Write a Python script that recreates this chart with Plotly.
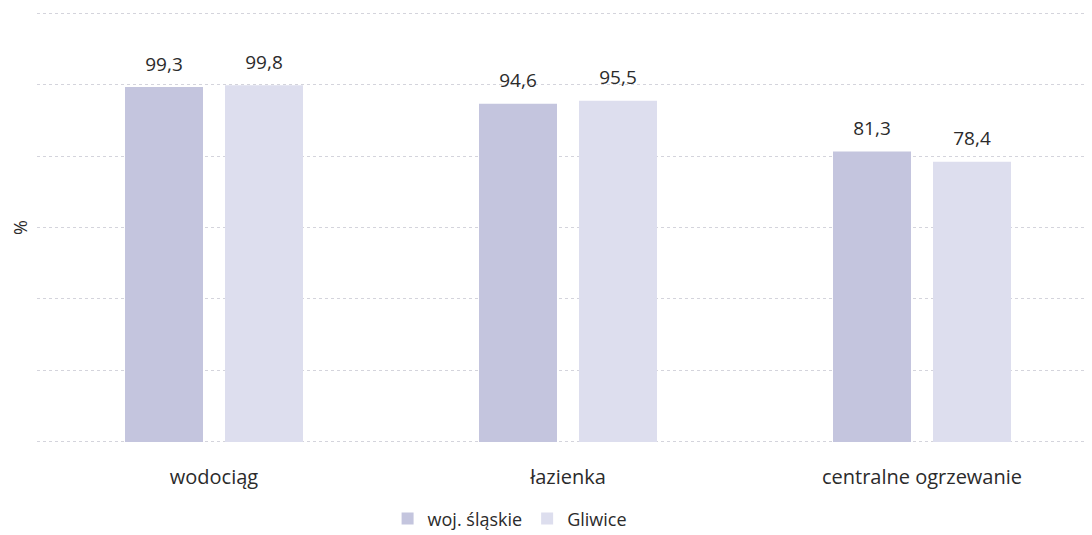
import plotly.graph_objects as go

categories = ["wodociąg", "łazienka", "centralne ogrzewanie"]
woj_slaskie = [99.3, 94.6, 81.3]
gliwice = [99.8, 95.5, 78.4]
series_names = ["woj. śląskie", "Gliwice"]

FONT = "Open Sans, Noto Sans, sans-serif"
TXT = "#2b2b2b"

fig = go.Figure()

series = [
    (series_names[0], woj_slaskie, "#c4c5de"),
    (series_names[1], gliwice, "#dddeee"),
]

for i, (name, vals, color) in enumerate(series):
    fig.add_trace(
        go.Bar(
            name=name,
            x=categories,
            y=vals,
            offsetgroup=str(i),
            marker=dict(color=color, line=dict(width=0)),
        )
    )

# value labels: invisible markers push the text up off the bar tops
for i, (name, vals, color) in enumerate(series):
    fig.add_trace(
        go.Scatter(
            x=categories,
            y=vals,
            offsetgroup=str(i),
            mode="markers+text",
            text=[f"{v:.1f}".replace(".", ",") for v in vals],
            textposition="top center",
            textfont=dict(family=FONT, size=19, color=TXT),
            marker=dict(size=17, opacity=0),
            showlegend=False,
            hoverinfo="skip",
            cliponaxis=False,
        )
    )

fig.update_layout(
    width=1092,
    height=535,
    margin=dict(l=29, r=1, t=4, b=100, autoexpand=False),
    paper_bgcolor="white",
    plot_bgcolor="white",
    separators=",.",
    barmode="group",
    scattermode="group",
    bargap=0.435,
    bargroupgap=0.22,
    font=dict(family=FONT, color=TXT),
    showlegend=True,
    legend=dict(
        orientation="h",
        x=0.445,
        xanchor="center",
        y=-0.176,
        yanchor="middle",
        font=dict(family=FONT, size=18, color=TXT),
        itemwidth=30,
    ),
    xaxis=dict(
        automargin=False,
        range=[-0.5, 2.5],
        showgrid=False,
        showline=False,
        zeroline=False,
        ticks="",
        ticklabelstandoff=20,
        tickfont=dict(family=FONT, size=20, color=TXT),
    ),
    yaxis=dict(
        automargin=False,
        range=[-0.3, 120.3],
        tickvals=[0, 20, 40, 60, 80, 100, 120],
        showticklabels=False,
        showgrid=True,
        gridcolor="#d4d4dc",
        griddash="dot",
        gridwidth=1,
        zeroline=False,
        title=dict(text="%", font=dict(family=FONT, size=18, color=TXT), standoff=3),
    ),
)

fig.write_html("out.html")
